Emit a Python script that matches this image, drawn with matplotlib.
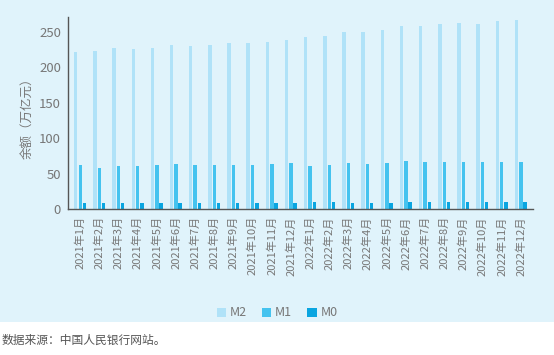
import matplotlib
matplotlib.use("Agg")
import matplotlib.pyplot as plt
import numpy as np
from matplotlib.patches import Rectangle

plt.rcParams['font.family'] = ['Noto Sans CJK SC', 'DejaVu Sans']

months = ["2021年1月", "2021年2月", "2021年3月", "2021年4月", "2021年5月", "2021年6月",
          "2021年7月", "2021年8月", "2021年9月", "2021年10月", "2021年11月", "2021年12月",
          "2022年1月", "2022年2月", "2022年3月", "2022年4月", "2022年5月", "2022年6月",
          "2022年7月", "2022年8月", "2022年9月", "2022年10月", "2022年11月", "2022年12月"]
m2 = [221.3, 223.6, 227.6, 226.2, 227.6, 231.8, 230.2, 231.2, 234.3, 233.6, 235.6, 238.3,
      243.1, 244.1, 249.8, 249.9, 252.7, 258.1, 257.8, 260.4, 262.7, 261.2, 264.7, 266.4]
m1 = [62.6, 58.2, 61.6, 60.6, 61.7, 63.8, 62.0, 62.2, 62.5, 62.7, 63.7, 64.7,
      61.3, 62.1, 64.5, 63.7, 64.6, 67.4, 66.2, 66.5, 66.5, 66.2, 66.7, 67.2]
m0 = [8.4, 9.0, 8.6, 8.6, 8.5, 8.6, 8.5, 8.6, 8.7, 8.6, 8.7, 9.1,
      10.6, 9.6, 9.5, 9.5, 9.5, 9.6, 9.6, 9.7, 9.9, 9.8, 10.0, 10.5]
series_names = ["M2", "M1", "M0"]
yticks = [0, 50, 100, 150, 200, 250]

W, H = 554, 355
fig = plt.figure(figsize=(W / 100, H / 100), dpi=100, facecolor='white')
fig.patches.append(Rectangle((0, 1 - 322 / H), 1, 322 / H, transform=fig.transFigure,
                             facecolor='#e0f3fb', edgecolor='none', zorder=-10))

ax = fig.add_axes([68 / W, 1 - 209.3 / H, (533 - 68) / W, (209.3 - 17) / H])
ax.set_facecolor('none')

x = np.arange(len(months))
colors = ['#b0e2f8', '#45c3ef', '#0aa5e0']
offsets = [-0.235, 0.0, 0.215]
bw = 0.18
for vals, c, off, name in zip([m2, m1, m0], colors, offsets, series_names):
    ax.bar(x + off, vals, width=bw, color=c, label=name, zorder=2)

ax.set_xlim(-0.64, 23.63)
ax.set_ylim(0, 270.8)
ax.set_yticks(yticks)
ax.set_xticks(x)
ax.set_xticklabels(months, rotation=90, fontsize=8, color='#777777')
ax.tick_params(axis='y', length=0, pad=5, labelsize=9.5, labelcolor='#777777')
ax.tick_params(axis='x', length=0, pad=5)
for s in ['top', 'right']:
    ax.spines[s].set_visible(False)
for s in ['left', 'bottom']:
    ax.spines[s].set_color('#555555')
    ax.spines[s].set_linewidth(1.0)

fig.text(28 / W, 1 - 115 / H, "余额（万亿元）", rotation=90, ha='center', va='center',
         fontsize=9, color='#777777')

handles, labels = ax.get_legend_handles_labels()
leg = fig.legend(handles, labels, loc='center', bbox_to_anchor=(277 / W, 1 - 313 / H),
                 ncol=3, frameon=False, fontsize=9, handlelength=0.75, handleheight=0.75,
                 handletextpad=0.3, columnspacing=1.2)
for t in leg.get_texts():
    t.set_color('#777777')

fig.text(2 / W, 1 - 340 / H, "数据来源：中国人民银行网站。", ha='left', va='center',
         fontsize=8.5, color='#555555')

fig.savefig("out.png", dpi=100, facecolor='white')
